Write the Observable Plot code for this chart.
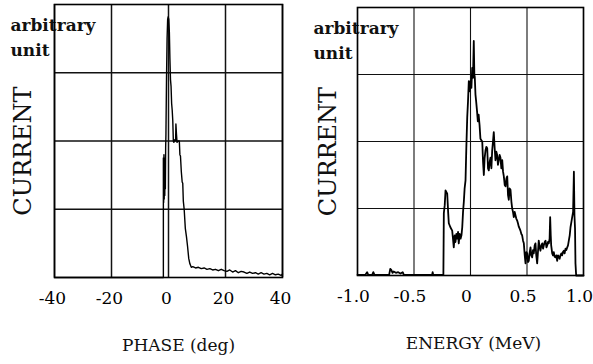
<!DOCTYPE html>
<html>
<head>
<meta charset="utf-8">
<script src="https://cdn.jsdelivr.net/npm/d3@7"></script>
<script src="https://cdn.jsdelivr.net/npm/@observablehq/plot@0.6"></script>
<style>
  html, body { margin: 0; padding: 0; background: #fff; }
  #wrap { display: flex; width: 593px; height: 364px; }
</style>
</head>
<body>
<div id="wrap"></div>
<script>
// ---- data ----
const unitLines = ["arbitrary", "unit"];
const yTitle = "CURRENT";
const phaseTitle = "PHASE (deg)";
const energyTitle = "ENERGY (MeV)";

const phaseTicks = [-40, -20, 0, 20, 40];
const energyTicks = [-1, -0.5, 0, 0.5, 1];
const energyTickLabels = ["-1.0", "-0.5", "0", "0.5", "1.0"];
const currentGrid = [1, 2, 3];

const phase = [-40, -30, -20, -10, -2.0, -1.8, -1.8, -1.7, -1.6, -1.5, -1.4, -1.3, -1.2, -1.1, -1.0, -0.9, -0.7, -0.5, -0.3, -0.1, 0.1, 0.3, 0.5, 0.7, 0.9, 1.1, 1.3, 1.5, 1.7, 1.9, 2.2, 2.5, 2.6, 2.8, 3.0, 3.4, 3.8, 4.0, 4.2, 4.5, 4.8, 5.0, 5.2, 5.5, 5.9, 6.3, 6.7, 7.1, 7.5, 8.0, 8.5, 9.5, 10.5, 11.5, 12.5, 13.5, 14.5, 15.5, 16.5, 17.5, 18.5, 19.5, 20.5, 21.5, 22.5, 23.5, 24.5, 25.5, 26.5, 27.5, 28.5, 29.5, 30.5, 31.5, 32.5, 33.5, 34.5, 35.5, 36.5, 37.5, 38.5, 39.5, 40];
const phaseCurrent = [0, 0, 0, 0, 0, 0, 1.75, 1.1, 1.8, 1.15, 1.7, 1.2, 1.75, 1.3, 1.9, 2.1, 2.9, 3.5, 3.78, 3.82, 3.78, 3.6, 3.2, 2.9, 2.8, 2.55, 2.45, 2.3, 2.0, 1.98, 2.02, 2.0, 2.25, 2.1, 1.98, 2.0, 2.0, 1.8, 1.78, 1.55, 1.4, 1.38, 1.12, 1.0, 0.72, 0.6, 0.45, 0.28, 0.2, 0.15, 0.16, 0.14, 0.15, 0.13, 0.14, 0.12, 0.13, 0.11, 0.12, 0.10, 0.12, 0.10, 0.09, 0.11, 0.08, 0.10, 0.07, 0.09, 0.08, 0.06, 0.08, 0.06, 0.07, 0.05, 0.07, 0.05, 0.06, 0.04, 0.06, 0.04, 0.05, 0.03, 0.05];

const energy = [-1.0, -0.93, -0.915, -0.905, -0.87, -0.86, -0.85, -0.72, -0.71, -0.70, -0.69, -0.68, -0.66, -0.64, -0.62, -0.60, -0.59, -0.34, -0.335, -0.33, -0.24, -0.236, -0.228, -0.221, -0.206, -0.198, -0.192, -0.178, -0.162, -0.155, -0.148, -0.140, -0.133, -0.125, -0.118, -0.110, -0.104, -0.096, -0.088, -0.080, -0.073, -0.066, -0.059, -0.052, -0.044, -0.037, -0.029, -0.022, -0.015, -0.008, 0.0, 0.008, 0.015, 0.022, 0.029, 0.034, 0.038, 0.044, 0.050, 0.058, 0.065, 0.072, 0.080, 0.088, 0.096, 0.104, 0.111, 0.118, 0.125, 0.133, 0.140, 0.148, 0.155, 0.162, 0.170, 0.177, 0.185, 0.192, 0.199, 0.206, 0.214, 0.221, 0.228, 0.236, 0.243, 0.250, 0.258, 0.265, 0.273, 0.281, 0.288, 0.295, 0.303, 0.310, 0.318, 0.325, 0.332, 0.339, 0.346, 0.354, 0.362, 0.369, 0.376, 0.383, 0.391, 0.398, 0.405, 0.413, 0.420, 0.427, 0.435, 0.442, 0.450, 0.457, 0.465, 0.472, 0.480, 0.487, 0.494, 0.502, 0.509, 0.516, 0.524, 0.531, 0.538, 0.546, 0.553, 0.560, 0.568, 0.575, 0.582, 0.590, 0.597, 0.604, 0.612, 0.619, 0.627, 0.635, 0.642, 0.649, 0.657, 0.664, 0.672, 0.679, 0.686, 0.693, 0.700, 0.705, 0.710, 0.714, 0.723, 0.730, 0.737, 0.745, 0.752, 0.760, 0.767, 0.775, 0.782, 0.789, 0.796, 0.804, 0.811, 0.818, 0.826, 0.833, 0.841, 0.848, 0.856, 0.863, 0.870, 0.878, 0.885, 0.893, 0.900, 0.908, 0.915, 0.920, 0.925, 0.929, 0.935, 1.0];
const energyCurrent = [0.01, 0.01, 0.05, 0.01, 0.01, 0.05, 0.01, 0.01, 0.1, 0.08, 0.04, 0.06, 0.04, 0.05, 0.03, 0.05, 0.01, 0.01, 0.05, 0.01, 0.01, 0.93, 1.05, 1.27, 1.22, 0.95, 0.78, 0.72, 0.67, 0.55, 0.42, 0.6, 0.5, 0.62, 0.55, 0.65, 0.48, 0.62, 0.55, 0.6, 0.72, 0.95, 1.1, 1.3, 1.42, 1.9, 2.36, 2.6, 2.9, 2.75, 2.9, 2.8, 3.1, 2.95, 3.5, 3.0, 2.96, 2.7, 2.6, 2.45, 2.3, 2.4, 2.25, 2.04, 2.02, 2.0, 1.7, 1.5, 1.75, 1.87, 1.92, 1.9, 1.6, 1.57, 1.7, 1.76, 1.6, 1.87, 2.0, 2.14, 1.9, 1.72, 1.85, 1.8, 1.65, 1.72, 1.8, 1.76, 1.6, 1.72, 1.55, 1.48, 1.35, 1.33, 1.45, 1.48, 1.2, 1.13, 1.3, 1.28, 1.1, 1.0, 0.95, 0.87, 0.95, 0.9, 0.85, 0.82, 0.78, 0.73, 0.7, 0.67, 0.62, 0.6, 0.52, 0.48, 0.3, 0.18, 0.35, 0.33, 0.2, 0.22, 0.35, 0.42, 0.3, 0.27, 0.38, 0.33, 0.45, 0.48, 0.3, 0.18, 0.35, 0.52, 0.42, 0.37, 0.45, 0.48, 0.4, 0.45, 0.5, 0.52, 0.42, 0.45, 0.5, 0.48, 0.55, 0.87, 0.6, 0.45, 0.33, 0.3, 0.35, 0.28, 0.27, 0.3, 0.22, 0.3, 0.28, 0.25, 0.3, 0.33, 0.3, 0.35, 0.37, 0.33, 0.4, 0.38, 0.42, 0.45, 0.52, 0.6, 0.72, 0.8, 0.87, 0.95, 1.55, 0.9, 0.7, 0.18, 0.0, 0.0];

// ---- chart ----
const FONT = "DejaVu Serif";

function panel({xs, ys, xDomain, ticks, tickFormat, title, width, mL, mR, mT, mB, lineW, gridW, labelDx, titleDx, titleDy, tickDx, xTitleDx}) {
  const data = xs.map((x, i) => ({x, y: ys[i]}));
  return Plot.plot({
    width, height: 364,
    marginLeft: mL, marginRight: mR, marginTop: mT, marginBottom: mB,
    style: {fontFamily: FONT, background: "#fff", color: "#000", overflow: "visible"},
    x: {domain: xDomain},
    y: {domain: [0, 4]},
    marks: [
      Plot.gridX(ticks, {stroke: "#111", strokeOpacity: 1, strokeWidth: gridW}),
      Plot.gridY(currentGrid, {stroke: "#111", strokeOpacity: 1, strokeWidth: gridW}),
      Plot.text([unitLines.join("\n")], {frameAnchor: "top-left", textAnchor: "start", lineAnchor: "top", dx: labelDx, dy: 8, fontSize: 17, fontWeight: "bold", lineHeight: 1.5, fill: "#111"}),
      Plot.text([yTitle], {frameAnchor: "left", textAnchor: "middle", rotate: -90, dx: titleDx, dy: titleDy, fontSize: 24, fill: "#111"}),
      Plot.frame({stroke: "#000", strokeWidth: 1.6}),
      Plot.line(data, {x: "x", y: "y", stroke: "#000", strokeWidth: lineW}),
      Plot.axisX(ticks, {tickSize: 0, tickPadding: 14, fontSize: 17, tickFormat, label: null, dx: tickDx}),
      Plot.axisY([], {label: null}),
      Plot.text([title], {frameAnchor: "bottom", lineAnchor: "middle", dy: 68, dx: xTitleDx, fontSize: 17, fill: "#111"})
    ]
  });
}

const left = panel({
  xs: phase, ys: phaseCurrent, xDomain: [-40, 40], ticks: phaseTicks,
  tickFormat: d => String(d), title: phaseTitle,
  width: 300, mL: 54, mR: 18, mT: 4, mB: 87, lineW: 1.4, gridW: 1.5,
  labelDx: -44, titleDx: -31, titleDy: 10, tickDx: -2, xTitleDx: 10
});
const right = panel({
  xs: energy, ys: energyCurrent, xDomain: [-1, 1], ticks: energyTicks,
  tickFormat: (d, i) => energyTickLabels[i], title: energyTitle,
  width: 293, mL: 57, mR: 10, mT: 7, mB: 89, lineW: 1.8, gridW: 1.1,
  labelDx: -44, titleDx: -29, titleDy: 10, tickDx: -4, xTitleDx: 3
});
document.getElementById("wrap").append(left, right);
</script>
</body>
</html>
